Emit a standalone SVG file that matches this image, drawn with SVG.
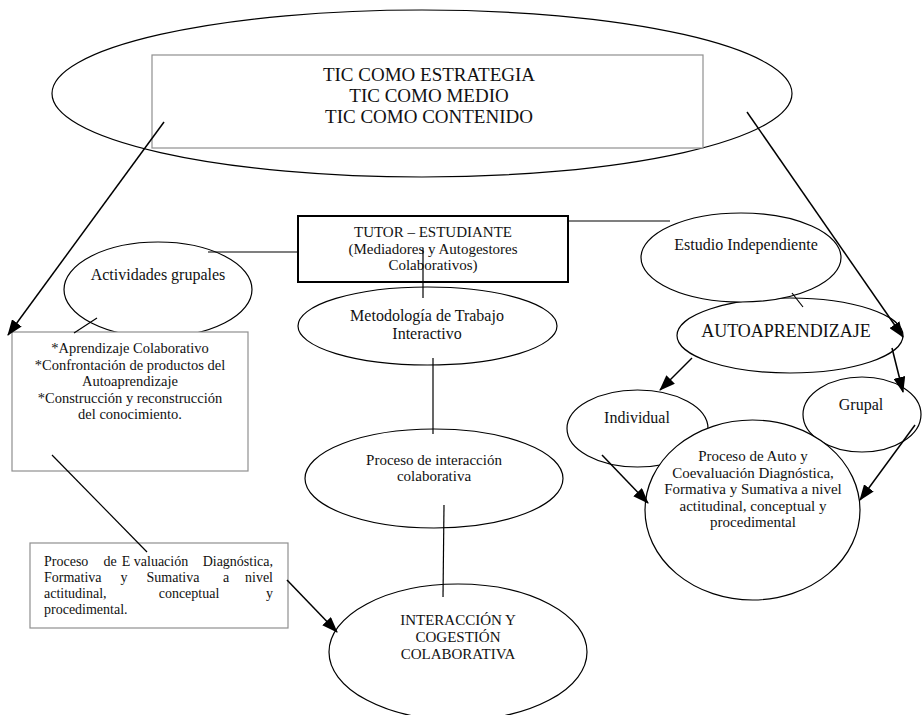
<svg xmlns="http://www.w3.org/2000/svg" width="923" height="715" viewBox="0 0 923 715">
<style>
text{font-family:"Liberation Serif","Times New Roman",serif;fill:#111}
.c{text-anchor:middle}
.e{text-anchor:end}
.n{fill:#fff;stroke:#000;stroke-width:1.2}
.g{fill:#fff;stroke:#8f8f8f;stroke-width:1.2}
.l{stroke:#000;stroke-width:1.2;fill:none}
.a{stroke:#000;stroke-width:1.5;fill:none;marker-end:url(#ah)}
</style>
<defs>
<marker id="ah" markerUnits="userSpaceOnUse" markerWidth="16" markerHeight="12" refX="15" refY="6" orient="auto">
<path d="M0,0 L16,6 L0,12 z" fill="#000"/>
</marker>
</defs>
<rect width="923" height="715" fill="#fff"/>

<g id="tic">
<ellipse class="n" cx="422" cy="93.5" rx="370" ry="83.5"/>
<rect class="g" x="152" y="55" width="551" height="93"/>
<text class="c" x="429" y="81" font-size="19">TIC COMO ESTRATEGIA</text>
<text class="c" x="429" y="102" font-size="19">TIC COMO MEDIO</text>
<text class="c" x="429" y="123" font-size="19">TIC COMO CONTENIDO</text>
</g>

<g id="tutor">
<rect x="298" y="216" width="270" height="66" fill="#fff" stroke="#000" stroke-width="2"/>
<text class="c" x="433" y="237" font-size="15">TUTOR  – ESTUDIANTE</text>
<text class="c" x="433" y="254" font-size="15">(Mediadores y Autogestores</text>
<text class="c" x="433" y="270" font-size="15">Colaborativos)</text>
</g>

<g id="actividades">
<ellipse class="n" cx="158" cy="289.5" rx="94" ry="47.5"/>
<text class="c" x="158" y="280" font-size="16">Actividades grupales</text>
</g>

<g id="aprendizaje">
<rect class="g" x="12" y="332" width="236" height="139"/>
<text class="c" x="130" y="353" font-size="14.5">*Aprendizaje Colaborativo</text>
<text class="c" x="130" y="370" font-size="14.5">*Confrontación de productos  del</text>
<text class="c" x="130" y="386" font-size="14.5">Autoaprendizaje</text>
<text class="c" x="130" y="403" font-size="14.5">*Construcción y reconstrucción</text>
<text class="c" x="130" y="419" font-size="14.5">del conocimiento.</text>
</g>

<g id="metodologia">
<ellipse class="n" cx="427.5" cy="326" rx="129.5" ry="39"/>
<text class="c" x="427" y="321" font-size="16">Metodología de Trabajo</text>
<text class="c" x="427" y="339" font-size="16">Interactivo</text>
</g>

<g id="proceso-interaccion">
<ellipse class="n" cx="434" cy="478.5" rx="129" ry="49.5"/>
<text class="c" x="434" y="465" font-size="15">Proceso de interacción</text>
<text class="c" x="434" y="481" font-size="15">colaborativa</text>
</g>

<g id="evaluacion">
<rect class="g" x="30" y="543" width="258" height="85"/>
<g font-size="14">
<text x="44" y="566">Proceso</text>
<text class="c" x="110" y="566">de</text>
<text class="c" x="155" y="566">E valuación</text>
<text class="e" x="273" y="566">Diagnóstica,</text>
<text x="44" y="582">Formativa</text>
<text class="c" x="124" y="582">y</text>
<text class="c" x="173" y="582">Sumativa</text>
<text class="c" x="226" y="582">a</text>
<text class="e" x="273" y="582">nivel</text>
<text x="44" y="598">actitudinal,</text>
<text class="c" x="189" y="598">conceptual</text>
<text class="e" x="273" y="598">y</text>
<text x="44" y="614">procedimental.</text>
</g>
</g>

<g id="interaccion-cogestion">
<ellipse class="n" cx="458" cy="652" rx="129" ry="68"/>
<text class="c" x="458" y="625" font-size="15">INTERACCIÓN Y</text>
<text class="c" x="458" y="642" font-size="15">COGESTIÓN</text>
<text class="c" x="458" y="659" font-size="15">COLABORATIVA</text>
</g>

<g id="autoaprendizaje">
<ellipse class="n" cx="790" cy="335.5" rx="113" ry="37.5"/>
<text class="c" x="786" y="337" font-size="18">AUTOAPRENDIZAJE</text>
</g>

<g id="estudio">
<ellipse class="n" cx="741" cy="257.5" rx="100" ry="44.5"/>
<text class="c" x="746" y="250" font-size="16">Estudio Independiente</text>
</g>

<g id="individual">
<ellipse class="n" cx="637.5" cy="428.5" rx="70.5" ry="38.5"/>
<text class="c" x="637" y="423" font-size="16">Individual</text>
</g>

<g id="grupal">
<ellipse class="n" cx="862" cy="414.5" rx="59" ry="37.5"/>
<text class="c" x="861" y="410" font-size="16">Grupal</text>
</g>

<g id="coevaluacion">
<ellipse class="n" cx="752.5" cy="510" rx="107.5" ry="90"/>
<text class="c" x="753" y="461" font-size="15">Proceso de Auto y</text>
<text class="c" x="753" y="477.5" font-size="15">Coevaluación Diagnóstica,</text>
<text class="c" x="753" y="494" font-size="15">Formativa y Sumativa a nivel</text>
<text class="c" x="753" y="510.5" font-size="15">actitudinal, conceptual y</text>
<text class="c" x="753" y="527" font-size="15">procedimental</text>
</g>

<g id="connectors">
<line class="l" x1="208" y1="252" x2="298" y2="252"/>
<line class="l" x1="568" y1="221" x2="670" y2="221"/>
<line class="l" x1="423" y1="248" x2="423" y2="298"/>
<line class="l" x1="433" y1="358" x2="433" y2="434"/>
<line class="l" x1="444" y1="505" x2="443" y2="597"/>
<line class="l" x1="97" y1="318" x2="74" y2="333"/>
<line class="l" x1="52" y1="455" x2="147" y2="552"/>
<line class="l" x1="792" y1="293" x2="803" y2="307"/>
<line class="a" x1="164" y1="122" x2="8" y2="335"/>
<line class="a" x1="747" y1="112" x2="903" y2="337"/>
<line class="a" x1="287" y1="580" x2="337" y2="632"/>
<line class="a" x1="692" y1="358" x2="660" y2="390"/>
<line class="a" x1="892" y1="348" x2="903" y2="392"/>
<line class="a" x1="602" y1="455" x2="648" y2="503"/>
<line class="a" x1="915" y1="425" x2="860" y2="500"/>
</g>
</svg>
